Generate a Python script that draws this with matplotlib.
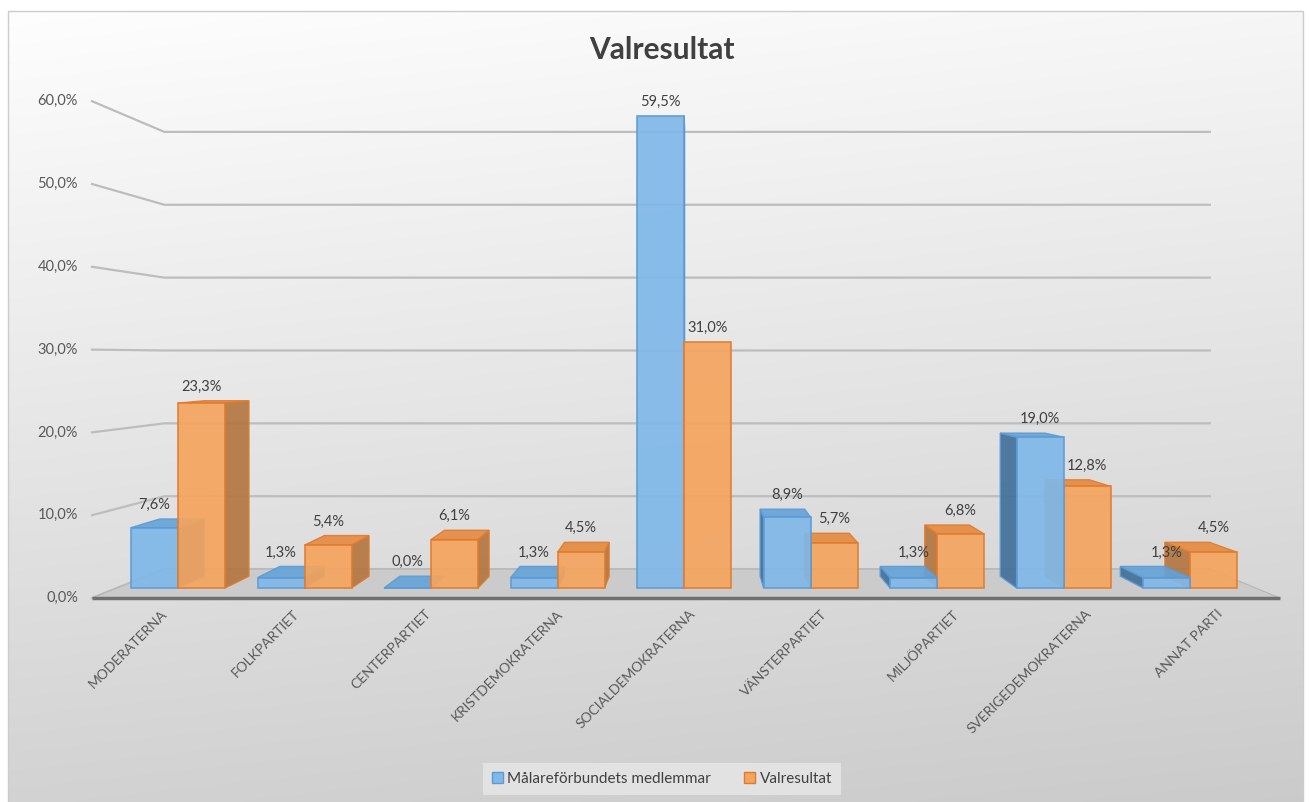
import matplotlib
matplotlib.use("Agg")
import matplotlib.pyplot as plt
import numpy as np
from matplotlib.patches import Polygon, Rectangle

plt.rcParams['font.family'] = ['Lato', 'DejaVu Sans']

categories = ["MODERATERNA", "FOLKPARTIET", "CENTERPARTIET", "KRISTDEMOKRATERNA",
              "SOCIALDEMOKRATERNA", "VÄNSTERPARTIET", "MILJÖPARTIET",
              "SVERIGEDEMOKRATERNA", "ANNAT PARTI"]
members = [7.6, 1.3, 0.0, 1.3, 59.5, 8.9, 1.3, 19.0, 1.3]
election = [23.3, 5.4, 6.1, 4.5, 31.0, 5.7, 6.8, 12.8, 4.5]
series_names = ["Målareförbundets medlemmar", "Valresultat"]
yticks = [0, 10, 20, 30, 40, 50, 60]

W, H = 1309, 802
# front plane layout (pixels): category spacing and percent scale
X0, S = 155.6, 132.0
Y0, K = 598.0, 8.28
VPX, VPY = 695.0, 357.0   # vanishing point in pixels

def px2x(px):
    return (px - X0) / S

def py2y(py):
    return (Y0 - py) / K

vx, vy = px2x(VPX), py2y(VPY)
g_front, g_back, g_wall = 0.0415, 0.0904, 0.12

def proj(x, y, g):
    return (x + g * (vx - x), y + g * (vy - y))

fig = plt.figure(figsize=(W / 100, H / 100), dpi=100)
fig.patch.set_facecolor('white')
ax = fig.add_axes([0, 0, 1, 1])
ax.set_xlim(px2x(0), px2x(W))
ax.set_ylim(py2y(H), py2y(0))
ax.axis('off')

# background gradient inside chart border
yy, xx = np.mgrid[0:1:200j, 0:1:200j]
grad = 0.995 - 0.17 * yy - 0.03 * xx
ax.imshow(np.dstack([grad, grad, grad]), extent=(px2x(8), px2x(1303), py2y(H), py2y(11)),
          origin='upper', aspect='auto', zorder=0, interpolation='bilinear')
ax.add_patch(Rectangle((px2x(8), py2y(H + 5)), px2x(1303) - px2x(8), py2y(11) - py2y(H + 5),
                       fill=False, edgecolor='#cccccc', lw=1, zorder=1))

# floor
xl, xr = px2x(92), px2x(1280)
floor = [(xl, 0), (xr, 0), proj(xr, 0, g_wall), proj(xl, 0, g_wall)]
ax.add_patch(Polygon(floor, closed=True, facecolor='#cbcbcb', edgecolor='#b5b5b5', lw=0.8, zorder=2))
ax.plot([xl, xr], [0, 0], color='#707070', lw=2.5, zorder=2.5, solid_capstyle='butt')

# gridlines: left wall diagonal + back wall
for v in yticks:
    bl = proj(xl, v, g_wall)
    br = proj(xr, v, g_wall)
    ax.plot([xl, bl[0], br[0]], [v, bl[1], br[1]], color='#bdbdbd', lw=1.6, zorder=1.5)
    ax.text(px2x(78), v, f"{v:.1f}%".replace('.', ','), ha='right', va='center',
            fontsize=10.5, color='#595959', zorder=5)

colors = {
    0: dict(front='#80b8e8', top='#64a2d8', side='#3f6e98', edge='#5b9bd5'),
    1: dict(front='#f5a45e', top='#e6893f', side='#b3743e', edge='#e07b2e'),
}
bw = 47 / (1 - g_front) / S

bars = []
for i in range(len(categories)):
    bars.append((abs(i - bw / 2 - vx), i - bw, i, members[i], 0))
    bars.append((abs(i + bw / 2 - vx), i, i + bw, election[i], 1))
bars.sort(key=lambda b: -b[0])

z = 3
for _, x0, x1, h, s in bars:
    c = colors[s]
    fbl, fbr = proj(x0, 0, g_front), proj(x1, 0, g_front)
    ftl, ftr = proj(x0, h, g_front), proj(x1, h, g_front)
    bbl, bbr = proj(x0, 0, g_back), proj(x1, 0, g_back)
    btl, btr = proj(x0, h, g_back), proj(x1, h, g_back)
    if x1 < vx:
        ax.add_patch(Polygon([ftr, fbr, bbr, btr], facecolor=c['side'], edgecolor=c['edge'],
                             lw=1, alpha=0.9, zorder=z))
    if x0 > vx:
        ax.add_patch(Polygon([ftl, fbl, bbl, btl], facecolor=c['side'], edgecolor=c['edge'],
                             lw=1, alpha=0.9, zorder=z))
    if h < vy:
        ax.add_patch(Polygon([ftl, ftr, btr, btl], facecolor=c['top'], edgecolor=c['edge'],
                             lw=1, alpha=0.9, zorder=z))
    ax.bar(fbl[0], ftl[1] - fbl[1], width=fbr[0] - fbl[0], bottom=fbl[1], align='edge',
           color=c['front'], edgecolor=c['edge'], lw=1.2, alpha=0.92, zorder=z + 0.1)
    top = max(ftl[1], btl[1])
    ax.annotate(f"{h:.1f}%".replace('.', ','), xy=((ftl[0] + ftr[0]) / 2, top),
                xytext=(0, 5), textcoords='offset points', ha='center', va='bottom',
                fontsize=10.5, color='#404040', zorder=10)
    z += 0.2

# category labels
lab_dx = px2x(165) - px2x(155.6)
for i, name in enumerate(categories):
    ax.text(i + lab_dx, py2y(612), name, rotation=45,
            rotation_mode='anchor', ha='right', va='center', fontsize=10, color='#595959')

fig.text(662 / W, 1 - 50 / H, "Valresultat", ha='center', va='center',
         fontsize=21.5, fontweight='bold', color='#404040')

handles = [Rectangle((0, 0), 1, 1, facecolor=colors[s]['front'], edgecolor=colors[s]['edge'])
           for s in (0, 1)]
leg = fig.legend(handles, series_names, loc='center', bbox_to_anchor=(662 / W, 1 - 779 / H),
                 ncol=2, frameon=True, fontsize=11, handlelength=0.7, handleheight=0.7,
                 handletextpad=0.3, columnspacing=2.2, borderpad=0.6, fancybox=False)
leg.get_frame().set_facecolor('#e2e2e2')
leg.get_frame().set_edgecolor('none')
leg.get_frame().set_alpha(1)
for t in leg.get_texts():
    t.set_color('#404040')

plt.savefig('out.png', dpi=100)
